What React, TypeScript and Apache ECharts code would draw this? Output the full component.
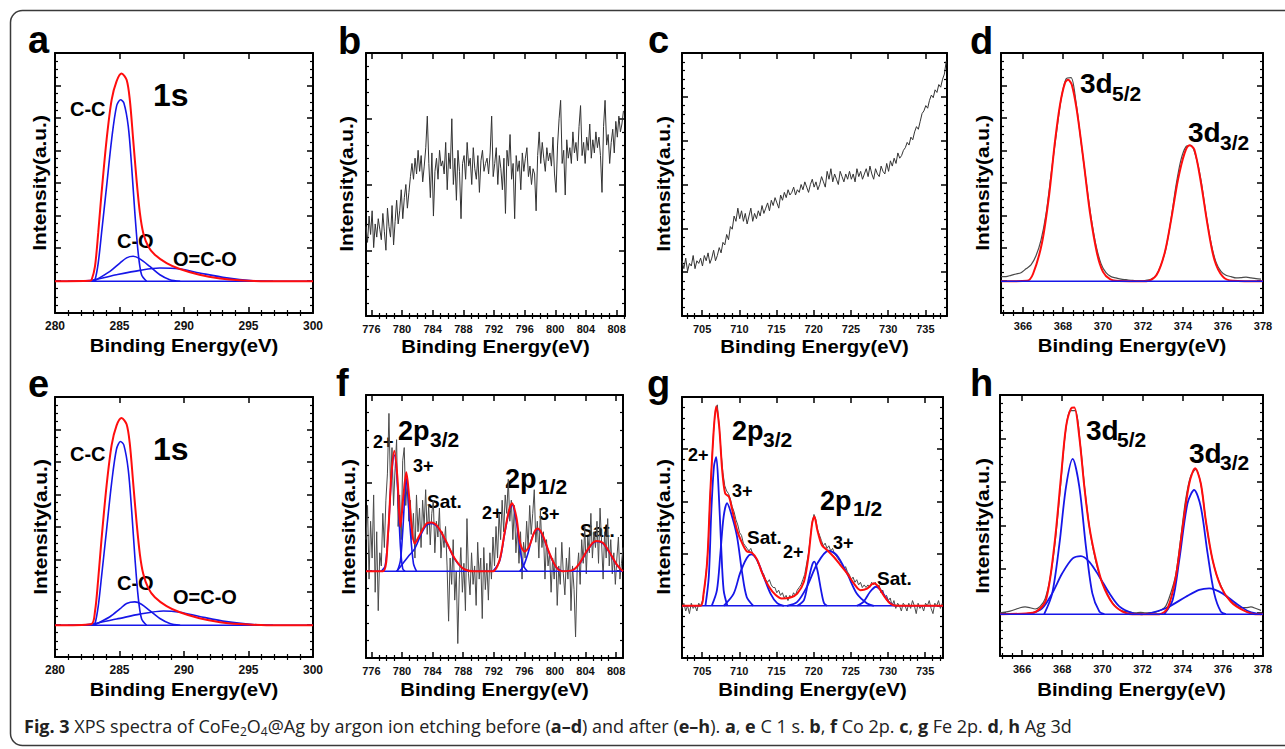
import React, { useEffect, useRef } from "react";
import * as echarts from "echarts";

// ---------------- DATA ----------------
const C1S_X_TICKS = [280, 285, 290, 295, 300];
const CO_X_TICKS = [776, 780, 784, 788, 792, 796, 800, 804, 808];
const FE_X_TICKS = [705, 710, 715, 720, 725, 730, 735];
const AG_X_TICKS = [366, 368, 370, 372, 374, 376, 378];

// (a) C 1s before etching  [binding energy, intensity %]
const A_BASE = 12.2;
const A_RED = [[280, 12.2], [282.7, 12.4], [282.84, 12.8], [283.1, 17.9], [283.35, 30.8], [283.61, 46.2], [284.0, 66.7], [284.39, 82], [284.77, 89.1], [285.16, 92.1], [285.55, 89.7], [285.8, 82], [286.06, 66.7], [286.32, 51.3], [286.58, 38.5], [286.84, 30.8], [287.23, 25.6], [287.74, 22.4], [288.65, 19.2], [289.68, 16.9], [291.2, 14.7], [292.8, 13.3], [294.3, 12.6], [296.4, 12.2], [300, 12.2]];
const A_CC = [[282.9, 12.2], [283.1, 12.8], [283.35, 19.2], [283.61, 30.8], [284.0, 48.7], [284.39, 66.7], [284.77, 79.5], [285.08, 82], [285.34, 80.8], [285.68, 71.8], [285.94, 56.4], [286.19, 38.5], [286.45, 23], [286.71, 14.7], [287.1, 12.2]];
const A_CO = [[283.0, 12.2], [284.26, 16], [285.03, 19.2], [285.55, 21.2], [286.06, 21.8], [286.58, 20.8], [287.35, 17.9], [288.13, 14.7], [288.9, 12.8], [289.7, 12.2]];
const A_OCO = [[281, 12.2], [282.7, 12.5], [284.77, 14.7], [286.58, 16.4], [288.13, 17.3], [289.68, 16.9], [291.2, 15.4], [293.3, 13.5], [295.35, 12.4], [296.9, 12.2]];

// (e) C 1s after etching
const E_BASE = 12.2;
const E_RED = [[280, 12.2], [282.8, 12.6], [283.1, 17.5], [283.35, 30], [283.61, 45.5], [284.0, 66], [284.39, 81.5], [284.77, 89], [285.16, 91.9], [285.55, 89.5], [285.8, 82], [286.06, 67], [286.32, 52], [286.58, 39.5], [286.84, 32], [287.23, 26.5], [287.74, 23], [288.65, 19.6], [289.68, 17.2], [291.2, 14.9], [292.8, 13.4], [294.3, 12.7], [296.4, 12.2], [300, 12.2]];
const E_CC = [[282.9, 12.2], [283.1, 12.9], [283.35, 19.5], [283.61, 31], [284.0, 49], [284.39, 67], [284.77, 80], [285.08, 82.9], [285.34, 81.5], [285.68, 72], [285.94, 56.5], [286.19, 38.5], [286.45, 23], [286.71, 14.7], [287.1, 12.2]];
const E_CO = [[283.0, 12.2], [284.26, 15.5], [285.03, 18.5], [285.55, 20.6], [286.19, 21.2], [286.7, 20.3], [287.35, 17.8], [288.13, 14.8], [288.9, 12.9], [289.7, 12.2]];
const E_OCO = [[281, 12.2], [282.7, 12.6], [284.77, 14.6], [286.58, 16.5], [288.4, 17.7], [289.68, 17.2], [291.2, 15.6], [293.3, 13.6], [295.35, 12.5], [296.9, 12.2]];

// (b) Co 2p before etching, raw counts, 0.2 eV step from 775.3 eV
const B_START = 775.3;
const B_STEP = 0.2;
const B_RAW = [
  34, 28, 38, 31, 40, 26, 35, 30, 37, 33,
  29, 39, 32, 25, 41, 34, 30, 42, 27, 36,
  44, 35, 40, 48, 37, 45, 50, 41, 47, 53,
  58, 52, 60, 54, 63, 55, 61, 51, 57, 64,
  76, 58, 45, 62, 38, 55, 60, 52, 63, 57,
  59, 54, 66, 48, 62, 56, 75, 50, 60, 44,
  63, 55, 37, 58, 61, 52, 66, 57, 60, 50,
  64, 56, 52, 61, 47, 59, 63, 55, 58, 60,
  54, 62, 76, 53, 58, 64, 50, 61, 56, 48,
  60, 39, 63, 57, 69, 52, 58, 37, 61, 55,
  59, 48, 62, 55, 60, 64, 53, 57, 50, 56,
  54, 40, 61, 70, 58, 66, 60, 55, 64, 59,
  62, 57, 68, 54, 47, 65, 75, 82, 58, 63,
  46, 67, 60, 64, 58, 70, 62, 66, 59, 72,
  80, 61, 66, 58, 68, 63, 73, 60, 67, 62,
  70, 64, 68, 61, 47, 72, 82, 65, 69, 58,
  66, 71, 62, 74, 68, 76, 70, 73, 78,
];

// (c) Fe 2p before etching, 0.25 eV step from 702.3 eV
const C_START = 702.3;
const C_STEP = 0.25;
const C_RAW = [
  21, 18, 22, 17, 20, 19, 23, 18, 21, 20,
  22, 19, 23, 21, 24, 20, 22, 25, 21, 23,
  26, 24, 28, 27, 31, 29, 34, 33, 38, 36,
  41, 37, 40, 36, 39, 35, 38, 41, 36, 39,
  37, 40, 38, 42, 39, 41, 43, 40, 44, 42,
  45, 43, 41, 46, 44, 47, 45, 48, 46, 47,
  49, 46, 48, 47, 50, 48, 51, 49, 47, 50,
  52, 49, 51, 48, 50, 53, 51, 49, 55, 52,
  56, 51, 54, 52, 50, 55, 53, 51, 54, 52,
  55, 52, 54, 51, 56, 53, 55, 52, 54, 56,
  53, 57, 54, 52, 56, 54, 53, 57, 55, 54,
  58, 55, 59, 57, 60, 58, 62, 60, 61, 63,
  64, 66, 65, 68, 67, 70, 72, 71, 74, 77,
  78, 80, 79, 82, 84, 83, 86, 85, 88, 87,
  90, 92, 97,
];

// (d) Ag 3d before etching
const D_BASE = 12.2;
const D_START = 364.9;
const D_STEP = 0.25;
const D_RAW = [
  14, 14, 14.5, 15, 15.5, 17, 18.5, 22, 28, 38,
  53, 68, 82, 90, 90.5, 81, 66, 51, 37, 26,
  19, 15.5, 14, 13.5, 13, 12.8, 12.6, 12.4, 12.4, 12.6,
  13, 14.5, 18.5, 25, 36, 49, 59, 64, 64.5, 60,
  51, 38, 27, 19.5, 16, 14.5, 14, 13.5, 13.6, 13.8,
  13.5, 13.2, 13,
];
const D_RED = [[364.9, 12.2], [366.2, 12.4], [366.5, 15], [366.95, 27], [367.3, 45], [367.6, 66], [367.86, 80.5], [368.1, 88.5], [368.25, 89.7], [368.44, 87.8], [368.69, 78], [369.02, 59], [369.35, 38.5], [369.7, 23], [370.0, 15.8], [370.35, 13], [370.8, 12.3], [372.17, 12.2], [372.67, 14.5], [373.08, 23], [373.41, 36], [373.75, 51.3], [374.08, 61.5], [374.33, 64.5], [374.57, 62.8], [374.9, 50], [375.24, 33.3], [375.57, 20.5], [375.98, 14.1], [376.48, 12.4], [378, 12.2]];

// (f) Co 2p after etching
const F_BASE = 33;
const F_START = 775.3;
const F_STEP = 0.2;
const F_RAW = [
  45, 58, 30, 52, 38, 62, 25, 48, 18, 40,
  35, 55, 42, 60, 70, 93, 65, 80, 58, 72,
  83, 50, 62, 45, 75, 80, 58, 68, 52, 60,
  45, 55, 38, 62, 48, 57, 42, 60, 50, 64,
  47, 58, 43, 55, 60, 40, 52, 46, 57, 38,
  48, 42, 50, 35, 14, 38, 28, 45, 22, 33,
  5.5, 30, 42, 25, 36, 18, 53, 32, 24, 40,
  28, 35, 20, 44, 30, 38, 15, 42, 26, 36,
  22, 40, 30, 46, 35, 50, 38, 55, 45, 60,
  48, 62, 55, 68, 52, 60, 45, 58, 40, 50,
  36, 48, 30, 44, 38, 52, 42, 58, 47, 55,
  64, 44, 52, 38, 56, 42, 48, 30, 45, 35,
  40, 25, 38, 30, 42, 20, 35, 28, 44, 32,
  24, 38, 30, 42, 18, 35, 26, 8, 33, 40,
  28, 45, 36, 50, 32, 46, 40, 55, 38, 48,
  42, 52, 36, 57, 44, 30, 48, 38, 53, 35,
  45, 32, 40, 28, 38, 46, 30, 36, 42,
];
const F_RED = [[775.3, 33], [777.5, 33], [778.18, 47.3], [778.6, 68.9], [779.0, 78.8], [779.4, 68.9], [779.79, 49.9], [780.22, 62.6], [780.57, 70.6], [780.9, 62.6], [781.27, 49.9], [781.66, 43.5], [782.3, 46.7], [783.2, 51.1], [783.84, 51.5], [784.7, 49.9], [785.8, 44.2], [786.9, 37.8], [788.0, 34], [789.3, 33], [791.9, 33], [792.76, 37.2], [793.4, 47.3], [794.0, 56.2], [794.4, 58.8], [794.95, 53.7], [795.46, 43.5], [796.03, 40.5], [796.68, 42.8], [797.33, 48], [797.77, 49.2], [798.4, 46.7], [799.3, 39.7], [800.16, 34.6], [801.0, 33], [802.3, 33.4], [803.2, 35.9], [804.1, 40.4], [804.95, 43.8], [805.47, 44.5], [806.26, 43.8], [807.1, 40.4], [808.0, 35.9], [808.65, 33.6], [808.9, 33]];
const F_2P32_2 = [[777.3, 33], [777.8, 35], [778.18, 46.5], [778.6, 67.5], [779.0, 77.2], [779.4, 66.4], [779.8, 42.3], [780.1, 34], [780.4, 33]];
const F_2P32_3 = [[779.4, 33], [779.8, 37], [780.1, 48], [780.57, 68.3], [781.05, 50], [781.5, 36], [781.9, 33]];
const F_2P32_SAT = [[779.3, 33], [780.0, 35.5], [780.8, 38.5], [781.66, 41.5], [782.5, 47], [783.2, 50.5], [783.84, 51.2], [784.7, 49.6], [785.8, 44], [786.9, 37.6], [788.0, 34], [789.3, 33]];
const F_2P12_2 = [[791.9, 33], [792.76, 36.8], [793.4, 46.8], [794.0, 55.8], [794.4, 58.3], [794.95, 52], [795.46, 41], [795.9, 35], [796.4, 33]];
const F_2P12_3 = [[795.4, 33], [795.9, 35], [796.5, 40], [797.1, 46.5], [797.77, 49], [798.4, 46.4], [799.3, 39.5], [800.16, 34.5], [801.0, 33]];
const F_2P12_SAT = [[801.5, 33], [802.3, 33.3], [803.2, 35.7], [804.1, 40.2], [804.95, 43.6], [805.47, 44.3], [806.26, 43.6], [807.1, 40.2], [808.0, 35.7], [808.65, 33.5], [808.9, 33]];

// (g) Fe 2p after etching
const G_BASE = 20;
const G_START = 702.3;
const G_STEP = 0.25;
const G_RAW = [
  19, 21, 18, 20, 17, 21, 19, 20, 18, 21,
  20, 22, 26, 33, 42, 60, 75, 87, 95, 97,
  89, 79, 71, 66, 64, 63, 61, 58, 56, 53,
  51, 48, 47, 44, 43, 42, 41, 42, 40, 39,
  38, 36, 35, 33, 32, 30, 29, 30, 28, 27,
  27, 25, 26, 24, 25, 23, 24, 22, 24, 23,
  25, 24, 26, 27, 28, 30, 32, 36, 40, 46,
  52, 55, 53, 49, 47, 45, 43, 44, 42, 43,
  41, 42, 40, 39, 38, 37, 36, 34, 35, 33,
  32, 30, 31, 29, 30, 28, 29, 27, 28, 27,
  28, 27, 29, 28, 29, 27, 28, 25, 26, 23,
  24, 22, 23, 20, 22, 19, 21, 20, 18, 21,
  20, 18, 21, 19, 22, 20, 17, 21, 19, 20,
  18, 21, 20, 22, 19, 17, 21, 20, 22, 19,
  21,
];
const G_RED = [[702.3, 20], [704.8, 20], [705.2, 24.7], [705.7, 37.5], [706.1, 63.1], [706.6, 88.7], [706.9, 96.4], [707.3, 88.7], [707.7, 72.1], [708.1, 63.1], [708.6, 61.8], [709.0, 57.5], [709.7, 49], [710.4, 43.9], [711.0, 40.9], [711.7, 40.3], [712.4, 37.7], [713.1, 32.4], [714.0, 27.3], [714.9, 24.1], [715.7, 22.8], [716.9, 23.2], [717.8, 24.7], [718.7, 29.2], [719.3, 38.8], [719.8, 51.6], [720.1, 54.2], [720.5, 49], [721.1, 43.3], [721.8, 41.4], [722.7, 38.8], [723.6, 35.6], [724.5, 32.4], [725.4, 28.6], [726.3, 26], [727.2, 26.6], [728.1, 28.6], [728.7, 27.3], [729.4, 24.1], [730.3, 20.9], [731.2, 20], [737.4, 20]];
const G_2P32_2 = [[705.45, 20], [705.9, 31], [706.25, 56.7], [706.6, 73.4], [706.9, 77], [707.2, 65.7], [707.55, 43.9], [707.9, 26], [708.4, 20]];
const G_2P32_3 = [[706.3, 20], [707.0, 26], [707.46, 40], [707.9, 54.2], [708.36, 59.3], [709.0, 54.5], [709.7, 46.5], [710.4, 32.4], [711.0, 23.4], [711.9, 20]];
const G_2P32_SAT = [[707.9, 20], [709.25, 24.7], [710.1, 32.4], [711.0, 38.2], [711.6, 39.7], [712.4, 37.5], [713.3, 31.1], [714.2, 24.7], [715.1, 21], [716, 20]];
const G_2P12_2 = [[717.8, 20], [718.7, 22.2], [719.3, 29.8], [719.8, 35.6], [720.1, 36.9], [720.5, 33.7], [721.0, 26], [721.4, 21], [721.8, 20]];
const G_2P12_3 = [[716.4, 20], [717.8, 21.5], [719.1, 27.3], [720.5, 36.2], [722.0, 41.1], [723.1, 39.4], [724.5, 32.4], [725.8, 24.7], [727.2, 20.9], [728.1, 20]];
const G_2P12_SAT = [[725.8, 20], [726.7, 21.5], [727.6, 25.4], [728.4, 27.3], [729.2, 25.4], [730.1, 21.5], [731, 20]];

// (h) Ag 3d after etching
const H_BASE = 16;
const H_START = 364.9;
const H_STEP = 0.25;
const H_RAW = [
  16.5, 16.8, 17.2, 17.8, 18.5, 18.8, 18.5, 18, 19, 22,
  30, 44, 64, 85, 94, 94, 81, 62, 47, 37,
  30, 25.5, 21.5, 19, 17.5, 17, 16.8, 16.5, 16.7, 16.5,
  16.6, 16.8, 17.5, 19, 24, 31, 45, 60, 69, 71.5,
  66, 52, 40, 32, 27, 23, 21, 19.5, 18.5, 18.5,
  18.8, 18.2, 17.5,
];
const H_RED = [[364.9, 16], [366.2, 16.3], [366.7, 17], [367.19, 21.5], [367.6, 41.9], [367.94, 68.7], [368.19, 87.9], [368.44, 94.9], [368.6, 95.2], [368.85, 84], [369.1, 64.9], [369.35, 49.5], [369.68, 36.8], [370.0, 27.8], [370.5, 20.2], [371.0, 17], [371.5, 16], [372.83, 16], [373.25, 18.3], [373.66, 30.4], [374.0, 49.5], [374.33, 66.2], [374.62, 71.9], [374.9, 66.2], [375.15, 52], [375.49, 36.8], [375.9, 26.6], [376.4, 20.8], [376.98, 17.7], [377.64, 16], [378, 16]];
const H_5_2A = [[367.1, 16], [367.5, 24], [367.86, 43], [368.19, 64.9], [368.52, 75.5], [368.85, 64.9], [369.18, 41.9], [369.5, 24], [369.85, 17], [370.1, 16]];
const H_5_2B = [[366.36, 16], [367.0, 18.3], [367.5, 24], [368.0, 31.7], [368.52, 37.4], [368.93, 38.3], [369.35, 36.1], [369.85, 30.4], [370.35, 24], [370.84, 19], [371.5, 16.4], [372, 16]];
const H_3_2A = [[373.08, 16], [373.5, 21.5], [373.83, 36.8], [374.24, 58.5], [374.57, 63.6], [374.9, 57.2], [375.24, 39.3], [375.57, 24], [375.9, 17], [376.15, 16]];
const H_3_2B = [[372.17, 16], [373.16, 18.3], [374.16, 22.7], [374.82, 25.3], [375.32, 25.9], [375.98, 24], [376.65, 20.2], [377.31, 17], [377.9, 16]];

// ---------------- LAYOUT / STYLE ----------------
const FONT = "Liberation Sans, Arial, Helvetica, sans-serif";
const CAP_FONT = "Open Sans, Noto Sans, Liberation Sans, sans-serif";
const RED = "#ff0d0d";
const BLUE = "#1616e8";
const GRAY = "#4a4a4a";

type Panel = {
  letter: string;
  grid: { left: number; top: number; width: number; height: number };
  xMin: number; xMax: number; xTicks: number[]; xMinor: number;
  yDiv: number; yMinorPer: number; labelSize: number;
  letterPos: [number, number]; yNamePos: [number, number]; xNameY: number;
};

const PANELS: Panel[] = [
  { letter: "a", grid: { left: 55, top: 53, width: 258, height: 260 }, xMin: 280, xMax: 300, xTicks: C1S_X_TICKS, xMinor: 1, yDiv: 8, yMinorPer: 4, labelSize: 12, letterPos: [28, 40], yNamePos: [40, 183], xNameY: 346 },
  { letter: "b", grid: { left: 366, top: 53, width: 259, height: 263 }, xMin: 775.3, xMax: 809.1, xTicks: CO_X_TICKS, xMinor: 1, yDiv: 4, yMinorPer: 5, labelSize: 11, letterPos: [338, 41], yNamePos: [347, 184], xNameY: 347 },
  { letter: "c", grid: { left: 682, top: 53, width: 265, height: 263 }, xMin: 702.3, xMax: 737.9, xTicks: FE_X_TICKS, xMinor: 1, yDiv: 6, yMinorPer: 5, labelSize: 11, letterPos: [648, 40], yNamePos: [664, 184], xNameY: 347 },
  { letter: "d", grid: { left: 1001, top: 53, width: 262, height: 260 }, xMin: 364.9, xMax: 378, xTicks: AG_X_TICKS, xMinor: 0.5, yDiv: 8, yMinorPer: 4, labelSize: 11, letterPos: [970, 41], yNamePos: [983, 183], xNameY: 346 },
  { letter: "e", grid: { left: 55, top: 397, width: 258, height: 260 }, xMin: 280, xMax: 300, xTicks: C1S_X_TICKS, xMinor: 1, yDiv: 8, yMinorPer: 4, labelSize: 12, letterPos: [28, 384], yNamePos: [41, 527], xNameY: 690 },
  { letter: "f", grid: { left: 366, top: 395, width: 257, height: 263 }, xMin: 775.3, xMax: 808.9, xTicks: CO_X_TICKS, xMinor: 1, yDiv: 3, yMinorPer: 5, labelSize: 11, letterPos: [336, 383], yNamePos: [349, 527], xNameY: 690 },
  { letter: "g", grid: { left: 682, top: 397, width: 261, height: 261 }, xMin: 702.3, xMax: 737.4, xTicks: FE_X_TICKS, xMinor: 1, yDiv: 5, yMinorPer: 5, labelSize: 11, letterPos: [647, 384], yNamePos: [664, 527], xNameY: 690 },
  { letter: "h", grid: { left: 1000, top: 395, width: 263, height: 261 }, xMin: 364.9, xMax: 378, xTicks: AG_X_TICKS, xMinor: 0.5, yDiv: 6, yMinorPer: 5, labelSize: 11, letterPos: [970, 383], yNamePos: [983, 526], xNameY: 690 },
];

// annotation text: [text, left x, middle y, font size]
const ANNOTATIONS: [string, number, number, number][] = [
  ["1s", 153, 95, 32], ["C-C", 70, 109, 20], ["C-O", 117, 241, 20], ["O=C-O", 173, 259, 20],
  ["1s", 153, 449, 32], ["C-C", 70, 454, 20], ["C-O", 117, 583, 20], ["O=C-O", 173, 597, 20],
  ["3d", 1080, 83, 28], ["5/2", 1112, 93, 21], ["3d", 1188, 132, 28], ["3/2", 1220, 142, 21],
  ["3d", 1086, 430, 28], ["5/2", 1117, 439, 21], ["3d", 1189, 453, 28], ["3/2", 1220, 462, 21],
  ["2+", 373, 442, 18], ["2p", 398, 431, 27], ["3/2", 430, 439, 21], ["3+", 413, 466, 18], ["Sat.", 427, 501, 19],
  ["2+", 482, 513, 18], ["2p", 505, 479, 27], ["1/2", 538, 486, 21], ["3+", 539, 514, 18], ["Sat.", 580, 530, 19],
  ["2+", 688, 455, 18], ["2p", 732, 431, 27], ["3/2", 763, 439, 21], ["3+", 732, 491, 18], ["Sat.", 747, 537, 19],
  ["2+", 783, 552, 18], ["3+", 833, 543, 18], ["2p", 820, 501, 27], ["1/2", 853, 508, 21], ["Sat.", 877, 578, 19],
];

// ---------------- HELPERS ----------------
function ticksBetween(min: number, max: number, step: number): number[] {
  const out: number[] = [];
  const k0 = Math.ceil(min / step - 1e-9);
  const k1 = Math.floor(max / step + 1e-9);
  for (let k = k0; k <= k1; k++) out.push(Math.round(k * step * 1000) / 1000);
  return out;
}
function seq(start: number, step: number, vals: number[]) {
  return vals.map((v, i) => [Math.round((start + i * step) * 1000) / 1000, v]);
}

function buildAxes() {
  const xAxis: any[] = [];
  const yAxis: any[] = [];
  PANELS.forEach((p, i) => {
    const minorX = ticksBetween(p.xMin, p.xMax, p.xMinor).filter((v) => !p.xTicks.some((m) => Math.abs(m - v) < 1e-6));
    const yStep = 100 / p.yDiv;
    const majorY = ticksBetween(0, 100, yStep);
    const minorY = ticksBetween(0, 100, yStep / p.yMinorPer).filter((v) => !majorY.some((m) => Math.abs(m - v) < 1e-3));
    const line = { show: true, onZero: false, lineStyle: { color: "#000", width: 2 } };
    const noLine = { show: false };
    const major = (vals: number[]) => ({ show: true, inside: true, length: 6, customValues: vals, lineStyle: { color: "#000", width: 1.5 } });
    const minor = (vals: number[]) => ({ show: true, inside: true, length: 3, customValues: vals, lineStyle: { color: "#000", width: 1.2 } });
    const bx = { type: "value", gridIndex: i, min: p.xMin, max: p.xMax, splitLine: { show: false }, minorTick: { show: false } };
    xAxis.push({ ...bx, position: "bottom", axisLine: line, axisTick: major(p.xTicks), axisLabel: { show: true, customValues: p.xTicks, color: "#111", fontWeight: "bold", fontSize: p.labelSize, fontFamily: FONT, margin: 7 } });
    xAxis.push({ ...bx, position: "bottom", axisLine: noLine, axisTick: minor(minorX), axisLabel: { show: false } });
    xAxis.push({ ...bx, position: "top", axisLine: line, axisTick: major(p.xTicks), axisLabel: { show: false } });
    xAxis.push({ ...bx, position: "top", axisLine: noLine, axisTick: minor(minorX), axisLabel: { show: false } });
    const by = { type: "value", gridIndex: i, min: 0, max: 100, splitLine: { show: false }, minorTick: { show: false } };
    yAxis.push({ ...by, position: "left", axisLine: line, axisTick: major(majorY), axisLabel: { show: false } });
    yAxis.push({ ...by, position: "left", axisLine: noLine, axisTick: minor(minorY), axisLabel: { show: false } });
    yAxis.push({ ...by, position: "right", axisLine: line, axisTick: major(majorY), axisLabel: { show: false } });
    yAxis.push({ ...by, position: "right", axisLine: noLine, axisTick: minor(minorY), axisLabel: { show: false } });
  });
  return { xAxis, yAxis };
}

function ln(panel: number, data: any[], color: string, width: number, smooth: number | boolean) {
  return {
    type: "line", data, xAxisIndex: panel * 4, yAxisIndex: panel * 4,
    showSymbol: false, symbol: "none", smooth, silent: true,
    lineStyle: { color, width }, emphasis: { disabled: true },
  };
}
function base(panel: number, y: number) {
  const p = PANELS[panel];
  return ln(panel, [[p.xMin, y], [p.xMax, y]], BLUE, 1.6, false);
}

function buildSeries() {
  const s: any[] = [];
  const SM = 0.3;
  s.push(base(0, A_BASE), ln(0, A_OCO, BLUE, 1.6, SM), ln(0, A_CO, BLUE, 1.6, SM), ln(0, A_CC, BLUE, 1.6, SM), ln(0, A_RED, RED, 2, SM));
  s.push(ln(1, seq(B_START, B_STEP, B_RAW), "#333", 1, false));
  s.push(ln(2, seq(C_START, C_STEP, C_RAW), "#333", 1, false));
  s.push(ln(3, seq(D_START, D_STEP, D_RAW), GRAY, 1.2, SM), ln(3, D_RED, RED, 2, SM), base(3, D_BASE));
  s.push(base(4, E_BASE), ln(4, E_OCO, BLUE, 1.6, SM), ln(4, E_CO, BLUE, 1.6, SM), ln(4, E_CC, BLUE, 1.6, SM), ln(4, E_RED, RED, 2, SM));
  s.push(ln(5, seq(F_START, F_STEP, F_RAW), GRAY, 1, false), base(5, F_BASE));
  [F_2P32_2, F_2P32_3, F_2P32_SAT, F_2P12_2, F_2P12_3, F_2P12_SAT].forEach((d) => s.push(ln(5, d, BLUE, 1.6, SM)));
  s.push(ln(5, F_RED, RED, 2, SM));
  s.push(ln(6, seq(G_START, G_STEP, G_RAW), GRAY, 1, false), base(6, G_BASE));
  [G_2P32_2, G_2P32_3, G_2P32_SAT, G_2P12_2, G_2P12_3, G_2P12_SAT].forEach((d) => s.push(ln(6, d, BLUE, 1.8, SM)));
  s.push(ln(6, G_RED, RED, 2, SM));
  s.push(ln(7, seq(H_START, H_STEP, H_RAW), GRAY, 1.2, SM));
  [H_5_2A, H_5_2B, H_3_2A, H_3_2B].forEach((d) => s.push(ln(7, d, BLUE, 1.8, SM)));
  s.push(ln(7, H_RED, RED, 2, SM), base(7, H_BASE));
  return s;
}

function txt(text: string, x: number, y: number, size: number, extra: any = {}) {
  return {
    type: "text", x, y, silent: true, ...extra,
    style: {
      text, fill: "#000", fontSize: size, fontWeight: "bold", fontFamily: FONT,
      align: extra.align || "left", textAlign: extra.align || "left",
      verticalAlign: "middle", textVerticalAlign: "middle",
    },
  };
}

function buildGraphic() {
  const els: any[] = [];
  els.push({
    type: "rect", silent: true,
    shape: { x: 10.5, y: 10.5, width: 1300, height: 735, r: 12 },
    style: { fill: "none", stroke: "#3a3a3a", lineWidth: 1.5 },
  });
  PANELS.forEach((p) => {
    els.push(txt(p.letter, p.letterPos[0], p.letterPos[1], 38));
    const cx = p.grid.left + p.grid.width / 2;
    els.push({ ...txt("Binding Energy(eV)", cx, p.xNameY, 18, { align: "center" }), scaleX: 1.13 });
    const yn = txt("Intensity(a.u.)", p.yNamePos[0], p.yNamePos[1], 18, { align: "center" });
    els.push({ ...yn, rotation: Math.PI / 2, scaleX: 1.16 });
  });
  ANNOTATIONS.forEach(([t, x, y, s]) => els.push(txt(t, x, y, s)));
  els.push({
    type: "text", x: 24, y: 726, silent: true,
    style: {
      text: "{b|Fig. 3} {n|XPS spectra of CoFe}{s|2}{n|O}{s|4}{n|@Ag by argon ion etching before (}{b|a–d}{n|) and after (}{b|e–h}{n|). }{b|a}{n|, }{b|e}{n| C 1 s. }{b|b}{n|, }{b|f}{n| Co 2p. }{b|c}{n|, }{b|g}{n| Fe 2p. }{b|d}{n|, }{b|h}{n| Ag 3d}",
      fontSize: 18, fontFamily: CAP_FONT, fill: "#222",
      align: "left", textAlign: "left", verticalAlign: "middle", textVerticalAlign: "middle",
      rich: {
        b: { fontFamily: CAP_FONT, fontWeight: "bold", fontSize: 18, fill: "#222", lineHeight: 23 },
        n: { fontFamily: CAP_FONT, fontSize: 18, fill: "#222", lineHeight: 23 },
        s: { fontFamily: CAP_FONT, fontSize: 12, fill: "#222", lineHeight: 14, verticalAlign: "bottom" },
      },
    },
  });
  return els;
}

function buildOption() {
  const { xAxis, yAxis } = buildAxes();
  return {
    animation: false,
    backgroundColor: "#fff",
    grid: PANELS.map((p) => ({ ...p.grid, containLabel: false })),
    xAxis, yAxis,
    series: buildSeries(),
    graphic: { elements: buildGraphic() },
  };
}

export default function App() {
  const ref = useRef<HTMLDivElement>(null);
  useEffect(() => {
    if (!ref.current) return;
    const chart = echarts.init(ref.current, undefined, { renderer: "svg", width: 1285, height: 749 });
    chart.setOption(buildOption() as any);
    return () => chart.dispose();
  }, []);
  return <div ref={ref} style={{ position: "fixed", left: 0, top: 0, width: 1285, height: 749, background: "#fff" }} />;
}
